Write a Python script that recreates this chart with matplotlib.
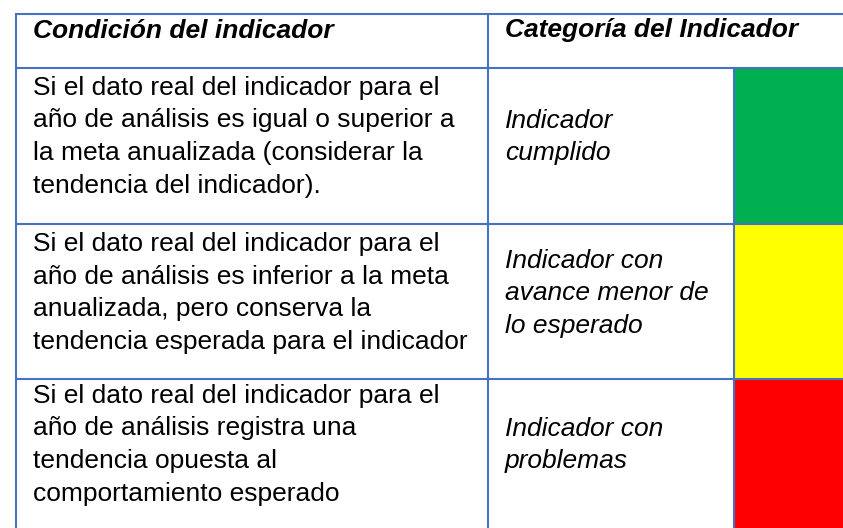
import matplotlib
matplotlib.use("Agg")
import matplotlib.pyplot as plt
from matplotlib.patches import Rectangle

# ---- table content ----
headers = ["Condición del indicador", "Categoría del Indicador"]
conditions = [
    ["Si el dato real del indicador para el",
     "año de análisis es igual o superior a",
     "la meta anualizada (considerar la",
     "tendencia del indicador)."],
    ["Si el dato real del indicador para el",
     "año de análisis es inferior a la meta",
     "anualizada, pero conserva la",
     "tendencia esperada para el indicador"],
    ["Si el dato real del indicador para el",
     "año de análisis registra una",
     "tendencia opuesta al",
     "comportamiento esperado"],
]
categories = [
    ["Indicador", "cumplido"],
    ["Indicador con", "avance menor de", "lo esperado"],
    ["Indicador con", "problemas"],
]
status_colors = ["#00B050", "#FFFF00", "#FF0000"]

# ---- layout (pixels) ----
W, H = 843, 528
line_color = "#4472C4"
lw = 1.5
x_left, x_div, x_col, x_right = 16, 488, 734, W
y_top, y_head = 14, 68
row_tops = [68, 224, 379]
row_bottoms = [224, 379, H]
fs = 19
font = "Liberation Sans"
line_h = 32.5
# baseline of first line of left column relative to row top
first_off = [27, 27, 24]
# first baseline of category text relative to row top
cat_off = [59.5, 43.5, 56.5]

fig = plt.figure(figsize=(W / 100, H / 100), dpi=100)
ax = fig.add_axes([0, 0, 1, 1])
ax.set_xlim(0, W)
ax.set_ylim(H, 0)
ax.axis("off")

# colour cells
for top, bot, c in zip(row_tops, row_bottoms, status_colors):
    ax.add_patch(Rectangle((x_col, top), x_right - x_col, bot - top,
                           facecolor=c, edgecolor="none", zorder=1))

# grid lines
for y in [y_top, y_head] + row_tops[1:]:
    ax.plot([x_left, x_right], [y, y], color=line_color, lw=lw, zorder=3,
            solid_capstyle="butt")
ax.plot([x_left, x_left], [y_top, H], color=line_color, lw=lw, zorder=3)
ax.plot([x_div, x_div], [y_top, H], color=line_color, lw=lw, zorder=3)
ax.plot([x_col, x_col], [y_head, H], color=line_color, lw=lw, zorder=3)

# header text
ax.text(33, 37.5, headers[0], fontsize=fs, family=font, weight="bold",
        style="italic", va="baseline", ha="left", zorder=4)
ax.text(505, 37.5, headers[1], fontsize=fs, family=font, weight="bold",
        style="italic", va="baseline", ha="left", zorder=4)

# body text
for i, (cond, cat) in enumerate(zip(conditions, categories)):
    for j, line in enumerate(cond):
        ax.text(33, row_tops[i] + first_off[i] + j * line_h, line,
                fontsize=fs, family=font, va="baseline", ha="left", zorder=4)
    for j, line in enumerate(cat):
        ax.text(505, row_tops[i] + cat_off[i] + j * line_h, line,
                fontsize=fs, family=font, style="italic", va="baseline",
                ha="left", zorder=4)

fig.savefig("out.png", dpi=100, facecolor="white")
